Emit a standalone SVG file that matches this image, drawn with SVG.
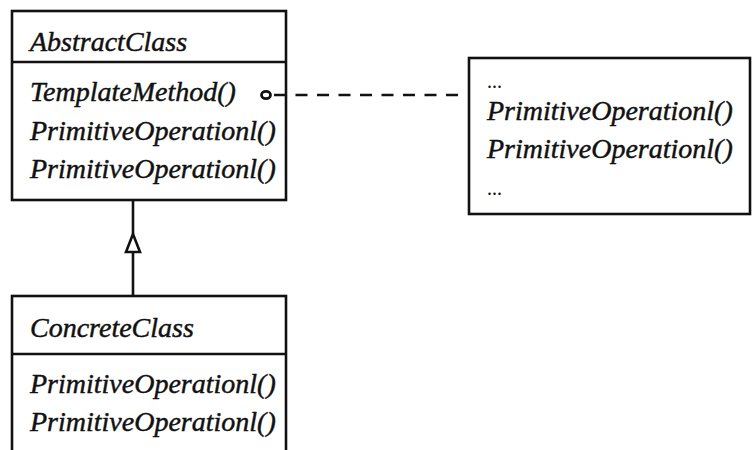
<svg xmlns="http://www.w3.org/2000/svg" width="756" height="450" viewBox="0 0 756 450">
  <style>
    .box { fill: #fff; stroke: #111; stroke-width: 2.6; }
    .sep { stroke: #111; stroke-width: 2.6; }
    .t { font-family: "Liberation Serif", "Times New Roman", serif; font-style: italic; font-size: 28px; fill: #111; stroke: #111; stroke-width: 0.45; }
    .dots { font-family: "Liberation Serif", "Times New Roman", serif; font-size: 20px; fill: #111; }
    .link { stroke: #111; stroke-width: 2.6; fill: none; }
  </style>
  <rect width="756" height="450" fill="#fff"/>

  <g id="abstract-class">
    <rect class="box" x="12" y="11" width="274" height="189"/>
    <line class="sep" x1="12" y1="62" x2="286" y2="62"/>
    <text class="t" x="30" y="51">AbstractClass</text>
    <text class="t" x="30" y="101">TemplateMethod()</text>
    <text class="t" x="30" y="140">PrimitiveOperationl()</text>
    <text class="t" x="30" y="178">PrimitiveOperationl()</text>
  </g>

  <g id="note">
    <rect class="box" x="469" y="58" width="281" height="156"/>
    <text class="dots" x="487" y="88">...</text>
    <text class="t" x="487" y="120">PrimitiveOperationl()</text>
    <text class="t" x="487" y="158">PrimitiveOperationl()</text>
    <text class="dots" x="487" y="195">...</text>
  </g>

  <g id="concrete-class">
    <rect class="box" x="12" y="296" width="274" height="170"/>
    <line class="sep" x1="12" y1="354" x2="286" y2="354"/>
    <text class="t" x="30" y="337">ConcreteClass</text>
    <text class="t" x="30" y="393">PrimitiveOperationl()</text>
    <text class="t" x="30" y="431">PrimitiveOperationl()</text>
  </g>

  <g id="connectors">
    <!-- generalization: ConcreteClass to AbstractClass -->
    <line class="link" x1="133" y1="200" x2="133" y2="234"/>
    <polygon class="link" points="133,234 126,252 140,252" fill="#fff"/>
    <line class="link" x1="133" y1="252" x2="133" y2="296"/>
    <!-- note link from TemplateMethod() -->
    <ellipse cx="266" cy="95" rx="4.5" ry="3.6" fill="#fff" stroke="#111" stroke-width="2.8"/>
    <line class="link" x1="274" y1="95" x2="462" y2="95" stroke-dasharray="12 9.5" stroke-width="3"/>
  </g>
</svg>
